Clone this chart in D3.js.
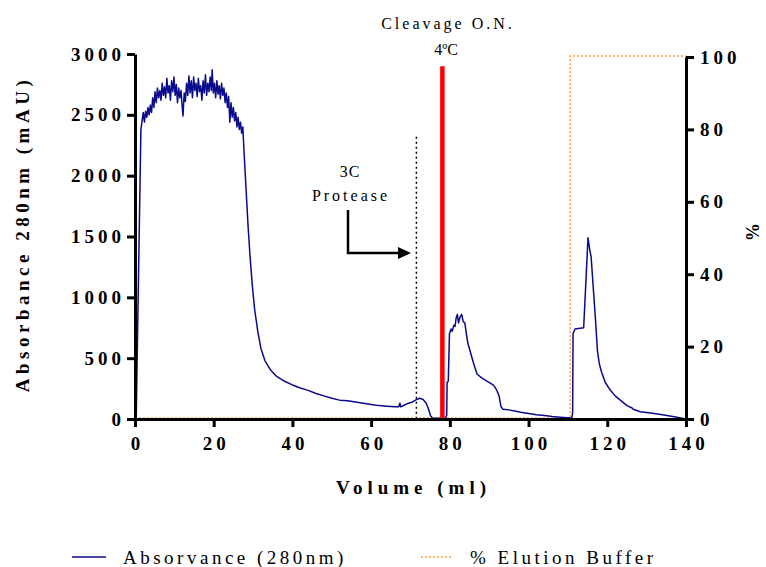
<!DOCTYPE html>
<html lang="en">
<head>
<meta charset="UTF-8">
<title>Chromatogram</title>
<script src="https://cdn.jsdelivr.net/npm/d3@7"></script>
<style>
  body { margin: 0; background: #fff; }
  svg { display: block; }
  .tick text { font-family: "Liberation Serif", serif; font-weight: bold; font-size: 19px; letter-spacing: 4px; fill: #000; }
</style>
</head>
<body>
<script type="text/javascript">
    var width = 766;
    var height = 567;

    // x ticks, y ticks (left, mAU) and right ticks (%)
    var volumeTicks = [0, 20, 40, 60, 80, 100, 120, 140];
    var absTicks = [0, 500, 1000, 1500, 2000, 2500, 3000];
    var pctTicks = [0, 20, 40, 60, 80, 100];

    // absorbance trace, [volume ml, mAU]
    var absorbance = [
        [0, 0], [0.3, 5], [1.5, 2380], [1.8, 2450], [2.1, 2520], [2.4, 2440], [2.7, 2530], [3.0, 2480],
        [3.3, 2560], [3.6, 2500], [3.9, 2580], [4.2, 2520], [4.5, 2640], [4.8, 2560], [5.1, 2690],
        [5.4, 2600], [5.7, 2720], [6.0, 2640], [6.3, 2700], [6.6, 2620], [6.9, 2760], [7.2, 2660],
        [7.5, 2730], [7.8, 2640], [8.1, 2800], [8.4, 2680], [8.7, 2740], [9.0, 2620], [9.3, 2780],
        [9.6, 2690], [9.9, 2810], [10.2, 2660], [10.5, 2750], [10.8, 2600], [11.1, 2720], [11.4, 2640],
        [11.7, 2700], [12.0, 2560], [12.2, 2490], [12.5, 2680], [12.8, 2610], [13.1, 2760], [13.4, 2660],
        [13.7, 2820], [14.0, 2680], [14.3, 2780], [14.6, 2640], [14.9, 2810], [15.2, 2700], [15.5, 2760],
        [15.8, 2650], [16.1, 2800], [16.4, 2690], [16.7, 2740], [17.0, 2620], [17.3, 2780], [17.6, 2680],
        [17.9, 2830], [18.2, 2660], [18.5, 2760], [18.8, 2690], [19.1, 2810], [19.4, 2700], [19.6, 2870],
        [19.9, 2680], [20.2, 2760], [20.5, 2640], [20.8, 2780], [21.1, 2670], [21.4, 2740], [21.7, 2630],
        [22.0, 2760], [22.3, 2660], [22.6, 2720], [22.9, 2600], [23.2, 2680], [23.5, 2560], [23.8, 2650],
        [24.1, 2440], [24.4, 2600], [24.7, 2480], [25.0, 2560], [25.3, 2450], [25.6, 2520], [25.9, 2400],
        [26.2, 2480], [26.5, 2380], [26.8, 2440], [27.1, 2350], [27.4, 2400], [27.7, 2200], [28.2, 1900],
        [28.7, 1600], [29.2, 1350], [29.8, 1100], [30.4, 900], [31.2, 720], [32.0, 580], [33.0, 480],
        [34.5, 400], [36.0, 350], [38.0, 310], [40.0, 280], [42.0, 255], [44.0, 235], [46.0, 210],
        [48.0, 190], [50.0, 170], [52.0, 155], [54.0, 150], [56.0, 140], [58.0, 130], [60.0, 120],
        [62.0, 110], [64.0, 105], [66.0, 100], [67.0, 100], [67.3, 130], [67.5, 100], [68.5, 115],
        [69.5, 130], [70.5, 140], [71.5, 160], [72.4, 170], [73.2, 160], [74.0, 130], [74.6, 80],
        [75.1, 25], [75.6, 8], [78.8, 5], [79.2, 30], [79.3, 300], [79.6, 310], [79.9, 700], [80.3, 740],
        [80.6, 720], [81.0, 770], [81.3, 760], [81.6, 830], [81.9, 860], [82.2, 790], [82.6, 840],
        [83.0, 860], [83.4, 800], [83.8, 790], [84.2, 700], [84.6, 620], [85.3, 540], [86.0, 460],
        [86.9, 370], [88.0, 340], [89.5, 310], [91.0, 280], [91.5, 260], [92.0, 230], [92.5, 190],
        [93.0, 100], [93.5, 80], [95.0, 75], [96.5, 65], [98.0, 55], [100.0, 45], [102.0, 35],
        [104.0, 28], [106.0, 20], [108.0, 15], [110.0, 10], [111.0, 8], [111.2, 50], [111.3, 700],
        [111.8, 740], [114.0, 750], [115.1, 1490], [115.5, 1400], [115.9, 1330], [116.5, 1050],
        [117.0, 820], [117.5, 560], [118.0, 450], [118.6, 380], [119.5, 300], [120.7, 240], [122.0, 190],
        [123.3, 155], [125.0, 110], [126.3, 90], [126.6, 80], [128.4, 60], [131.0, 50], [134.0, 35],
        [137.0, 18], [139.0, 6], [140.0, 0]
    ];

    // % elution buffer, [volume ml, %]
    var elution = [[0, 0], [110.6, 0], [110.6, 100], [140, 100]];

    // annotation markers: volume and top (mAU)
    var proteaseMark = {volume: 71.5, top: 2320};
    var cleavageMark = {volume: 78.1, top: 2900};

    var margin = {top: 54, left: 135, right: 80, bottom: 148};
    var plotW = width - margin.left - margin.right;  // 551
    var plotH = height - margin.top - margin.bottom; // 365

    var svg = d3.select('body').append('svg')
            .attr('width', width)
            .attr('height', height);

    var xScale = d3.scaleLinear().domain([0, 140]).range([margin.left, margin.left + plotW]);
    var yScale = d3.scaleLinear().domain([0, 3000]).range([margin.top + plotH, margin.top]);
    var y2Scale = d3.scaleLinear().domain([0, 100]).range([margin.top + plotH, margin.top + 3]);

    var serif = '"Liberation Serif", "Times New Roman", serif';

    // elution buffer (dotted orange)
    var elLine = d3.line()
            .x(function (d) { return xScale(d[0]); })
            .y(function (d) { return y2Scale(d[1]) - 1; });
    svg.append('path')
            .datum(elution)
            .attr('fill', 'none')
            .attr('stroke', '#ffa040')
            .attr('stroke-width', 1.5)
            .attr('stroke-dasharray', '2,2')
            .attr('d', elLine);

    // protease dotted marker
    svg.append('line')
            .attr('x1', xScale(proteaseMark.volume)).attr('x2', xScale(proteaseMark.volume))
            .attr('y1', yScale(proteaseMark.top)).attr('y2', yScale(0))
            .attr('stroke', '#000')
            .attr('stroke-width', 1.5)
            .attr('stroke-dasharray', '2,3');

    // absorbance trace
    var absLine = d3.line()
            .x(function (d) { return xScale(d[0]); })
            .y(function (d) { return yScale(d[1]); });
    svg.append('path')
            .datum(absorbance)
            .attr('fill', 'none')
            .attr('stroke', '#0a0a8c')
            .attr('stroke-width', 1.5)
            .attr('stroke-linejoin', 'round')
            .attr('d', absLine);

    // cleavage red marker
    svg.append('line')
            .attr('x1', xScale(cleavageMark.volume)).attr('x2', xScale(cleavageMark.volume))
            .attr('y1', yScale(cleavageMark.top)).attr('y2', yScale(0) - 1)
            .attr('stroke', '#ff0000')
            .attr('stroke-width', 4.5);

    // axes
    var fmt = d3.format('d');
    var xAxis = d3.axisBottom(xScale).tickValues(volumeTicks).tickFormat(fmt).tickSize(8).tickPadding(10);
    var yAxis = d3.axisLeft(yScale).tickValues(absTicks).tickFormat(fmt).tickSize(8).tickPadding(6);
    var y2Axis = d3.axisRight(y2Scale).tickValues(pctTicks).tickFormat(fmt).tickSize(8).tickPadding(6);

    function styleAxis(g) {
        g.select('.domain').attr('stroke-width', 3).attr('stroke', '#000');
        g.selectAll('.tick line').attr('stroke-width', 3).attr('stroke', '#000');
    }

    svg.append('g')
            .attr('transform', 'translate(0,' + yScale(0) + ')')
            .call(xAxis.tickSizeOuter(0))
            .call(styleAxis)
            .selectAll('text').attr('dx', '2px');

    svg.append('g')
            .attr('transform', 'translate(' + margin.left + ',0)')
            .call(yAxis.tickSizeOuter(0))
            .call(styleAxis)
            .selectAll('text').attr('dx', '4px');

    svg.append('g')
            .attr('transform', 'translate(' + (margin.left + plotW) + ',0)')
            .call(y2Axis.tickSizeOuter(0))
            .call(styleAxis);

    // axis titles
    svg.append('text')
            .attr('x', xScale(70) + 3)
            .attr('y', 494)
            .attr('text-anchor', 'middle')
            .attr('font-family', serif)
            .attr('font-weight', 'bold')
            .attr('font-size', '19px')
            .attr('letter-spacing', '5px')
            .text('Volume (ml)');

    svg.append('text')
            .attr('transform', 'translate(29,' + 234 + ') rotate(-90)')
            .attr('text-anchor', 'middle')
            .attr('font-family', serif)
            .attr('font-weight', 'bold')
            .attr('font-size', '19px')
            .attr('letter-spacing', '4.5px')
            .text('Absorbance 280nm (mAU)');

    svg.append('text')
            .attr('transform', 'translate(746,' + 232 + ') rotate(90)')
            .attr('text-anchor', 'middle')
            .attr('font-family', serif)
            .attr('font-weight', 'bold')
            .attr('font-size', '18px')
            .text('%');

    // annotations
    function note(x, y, t, sp) {
        svg.append('text')
                .attr('x', x).attr('y', y)
                .attr('text-anchor', 'middle')
                .attr('font-family', serif)
                .attr('font-size', '16px')
                .attr('letter-spacing', sp)
                .text(t);
    }
    note(448, 29, 'Cleavage O.N.', '3px');
    note(446, 55, '4ºC', '0px');
    note(350, 177, '3C', '1px');
    note(351, 201, 'Protease', '3px');

    svg.append('path')
            .attr('d', 'M348,210 V253 H399')
            .attr('fill', 'none')
            .attr('stroke', '#000')
            .attr('stroke-width', 2.5);
    svg.append('path')
            .attr('d', 'M398,247 L411,253 L398,259 Z')
            .attr('fill', '#000');

    // legend
    svg.append('line')
            .attr('x1', 72).attr('x2', 106).attr('y1', 557).attr('y2', 557)
            .attr('stroke', '#0a0a8c').attr('stroke-width', 1.5);
    svg.append('text')
            .attr('x', 123).attr('y', 564)
            .attr('font-family', serif)
            .attr('font-size', '19px')
            .attr('letter-spacing', '3.5px')
            .text('Absorvance (280nm)');
    svg.append('line')
            .attr('x1', 421).attr('x2', 453).attr('y1', 557).attr('y2', 557)
            .attr('stroke', '#ffa040').attr('stroke-width', 1.5)
            .attr('stroke-dasharray', '2,2');
    svg.append('text')
            .attr('x', 470).attr('y', 564)
            .attr('font-family', serif)
            .attr('font-size', '19px')
            .attr('letter-spacing', '3.5px')
            .text('% Elution Buffer');
</script>
</body>
</html>
